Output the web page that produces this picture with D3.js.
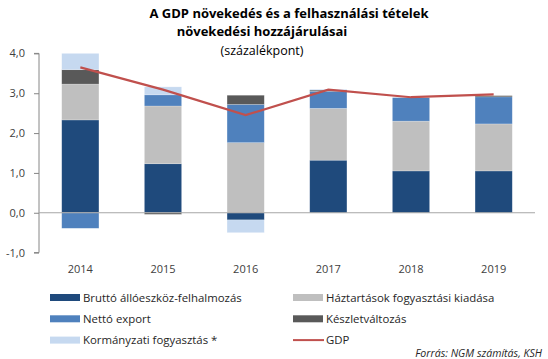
<!DOCTYPE html>
<html><head><meta charset="utf-8">
<script src="https://cdn.jsdelivr.net/npm/d3@7"></script>
<style>
body{margin:0;background:#fff;}
svg{display:block;font-family:"Open Sans",sans-serif;}
</style></head>
<body><svg id="c" width="548" height="359"></svg>
<script>
const years = ["2014","2015","2016","2017","2018","2019"];
const seriesNames = ["Bruttó állóeszköz-felhalmozás","Háztartások fogyasztási kiadása","Nettó export","Készletváltozás","Kormányzati fogyasztás *"];
const brutto      = [2.33, 1.23, -0.18, 1.32, 1.05, 1.05];
const haztartas   = [0.90, 1.45, 1.76, 1.30, 1.25, 1.18];
const netto       = [-0.39, 0.28, 0.96, 0.43, 0.59, 0.68];
const keszlet     = [0.36, -0.04, 0.23, 0.03, 0.00, 0.03];
const kormanyzati = [0.41, 0.20, -0.32, 0.02, 0.00, 0.00];
const gdp         = [3.65, 3.09, 2.45, 3.09, 2.90, 2.97];
const yTicks = [-1,0,1,2,3,4];
const colors = ["#1f4a7c","#bfbfbf","#4f81bd","#595959","#c6d9f0"];
const gdpColor = "#c0504d";

const svg = d3.select("#c");
const x = d3.scaleBand().domain(years).range([39,535]).paddingInner(0.55).paddingOuter(0.275);
const y = d3.scaleLinear().domain([-1,4]).range([252.6,53.4]);

const rows = years.map((yr,i)=>({year:yr, s0:brutto[i], s1:haztartas[i], s2:netto[i], s3:keszlet[i], s4:kormanyzati[i]}));
const keys = ["s0","s1","s2","s3","s4"];
const stacked = d3.stack().keys(keys).offset(d3.stackOffsetDiverging)(rows);

// bars
svg.append("g").selectAll("g").data(stacked).join("g")
  .attr("fill",(d,i)=>colors[i])
  .selectAll("rect").data(d=>d).join("rect")
  .attr("x",d=>x(d.data.year))
  .attr("width",x.bandwidth())
  .attr("y",d=>y(Math.max(d[0],d[1])))
  .attr("height",d=>Math.abs(y(d[0])-y(d[1])))
  .attr("stroke","rgba(255,255,255,0.35)").attr("stroke-width",0.6);

// y axis
const yAxis = d3.axisLeft(y).tickValues(yTicks).tickSize(5).tickPadding(9)
  .tickFormat(d=>d3.format(".1f")(d).replace(".",",").replace("−","-"));
const ga = svg.append("g").attr("transform","translate(39,0)").call(yAxis);
ga.select(".domain").attr("stroke","#868686").attr("d","M-5,"+y(4)+"H0V"+y(-1)+"H-5");
ga.selectAll(".tick line").attr("stroke","#868686");
ga.selectAll(".tick text").attr("fill","#404040").style("font-size","11px").style("font-family","'Open Sans',sans-serif");

// zero line
svg.append("line").attr("x1",39).attr("x2",535).attr("y1",y(0)).attr("y2",y(0))
  .attr("stroke","#a6a6a6").attr("stroke-width",1.2);

// x labels
const xAxis = d3.axisBottom(x).tickSize(0).tickPadding(0);
const gx = svg.append("g").attr("transform","translate(0,265)").call(xAxis);
gx.select(".domain").remove();
gx.selectAll(".tick text").attr("fill","#404040").style("font-size","11px").style("font-family","'Open Sans',sans-serif");

// GDP line
svg.append("path").datum(gdp)
  .attr("fill","none").attr("stroke",gdpColor).attr("stroke-width",2.2)
  .attr("d",d3.line().x((d,i)=>x(years[i])+x.bandwidth()/2).y(d=>y(d)));

// title
const t = svg.append("g").attr("font-weight","bold").attr("fill","#000").style("font-size","13px");
t.append("text").attr("x",289).attr("y",18).attr("text-anchor","middle").text("A GDP növekedés és a felhasználási tételek");
t.append("text").attr("x",262).attr("y",36).attr("text-anchor","middle").text("növekedési hozzájárulásai");
svg.append("text").attr("x",262).attr("y",55).attr("text-anchor","middle").style("font-size","12.5px").attr("fill","#000").text("(százalékpont)");

// legend
const legendItems = [
  {name:seriesNames[0], color:colors[0], type:"rect", col:0, row:0},
  {name:seriesNames[1], color:colors[1], type:"rect", col:1, row:0},
  {name:seriesNames[2], color:colors[2], type:"rect", col:0, row:1},
  {name:seriesNames[3], color:colors[3], type:"rect", col:1, row:1},
  {name:seriesNames[4], color:colors[4], type:"rect", col:0, row:2},
  {name:"GDP", color:gdpColor, type:"line", col:1, row:2}
];
const lg = svg.append("g");
legendItems.forEach(it=>{
  const lx = it.col===0 ? 50 : 293;
  const ly = 297.5 + it.row*21.3;
  if(it.type==="rect"){
    lg.append("rect").attr("x",lx).attr("y",ly-3.5).attr("width",30).attr("height",7).attr("fill",it.color);
  } else {
    lg.append("line").attr("x1",lx).attr("x2",lx+31).attr("y1",ly).attr("y2",ly).attr("stroke",it.color).attr("stroke-width",2);
  }
  lg.append("text").attr("x",lx+33).attr("y",ly+4).style("font-size","11.4px").attr("fill","#262626").text(it.name);
});

svg.append("text").attr("x",542).attr("y",357).attr("text-anchor","end").style("font-size","10.6px")
  .style("font-style","italic").attr("fill","#262626").text("Forrás: NGM számítás, KSH");
</script></body></html>
